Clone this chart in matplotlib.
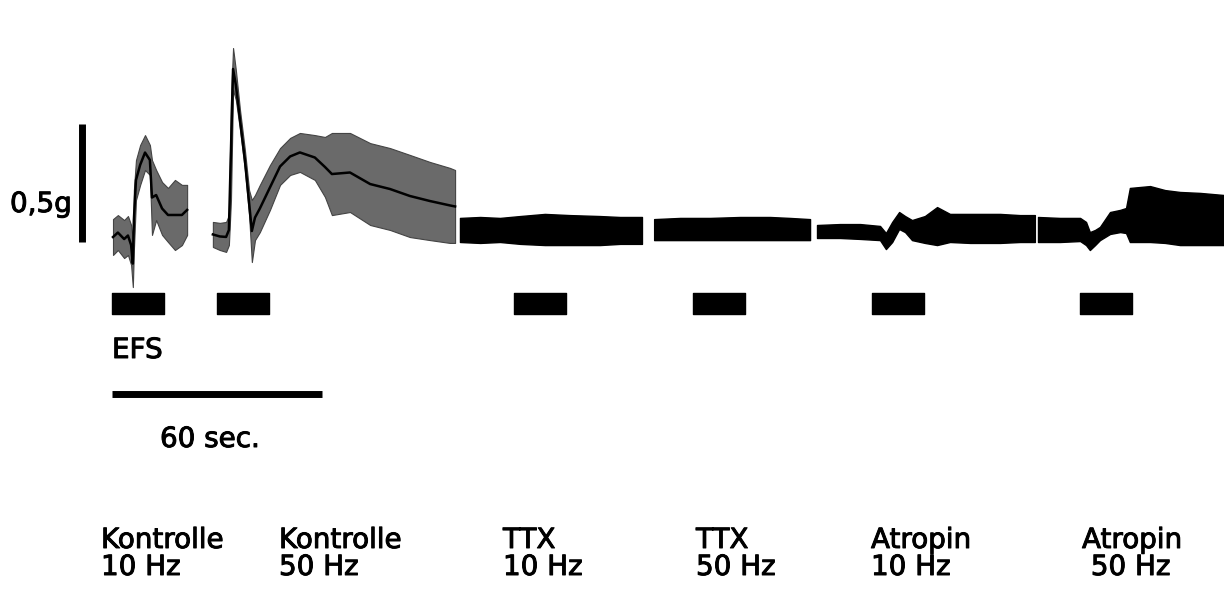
import numpy as np
import matplotlib
matplotlib.use("Agg")
import matplotlib.pyplot as plt
import matplotlib.patheffects as pe

plt.rcParams['font.family'] = ['DejaVu Sans']

# isometric tension trace
# time in s (0 = start of first EFS), tension in g; each segment gives the
# upper and lower edge of the oscillating trace

# Kontrolle 10 Hz
k10_t  = [0, 1.4, 3.2, 4.3, 5.2, 5.7, 6.0, 6.6, 7.8, 9.2, 10.6, 11.2, 12.4, 14.1, 15.8, 17.8, 19.8, 21.3]
k10_hi = [0.097, 0.114, 0.093, 0.110, 0.072, 0.008, 0.220, 0.347, 0.411, 0.453, 0.411, 0.347, 0.305, 0.254, 0.229, 0.263, 0.242, 0.242]
k10_lo = [-0.055, -0.034, -0.068, -0.055, -0.097, -0.191, -0.034, 0.178, 0.242, 0.305, 0.284, 0.030, 0.093, 0.030, 0.0, -0.034, -0.013, 0.030]

# Kontrolle 50 Hz
k50_t  = [28.7, 30.7, 32.5, 33.3, 33.9, 34.5, 35.3, 36.5, 37.9, 39.1, 39.9, 40.8, 42.2, 45.1, 48.0, 50.9, 53.7,
          58.0, 60.9, 62.9, 68.1, 73.9, 79.6, 85.3, 91.1, 96.8, 98.3]
k50_hi = [0.085, 0.081, 0.085, 0.114, 0.602, 0.822, 0.729, 0.559, 0.390, 0.220, 0.178, 0.199, 0.242, 0.326, 0.398, 0.441, 0.462,
          0.453, 0.445, 0.462, 0.462, 0.419, 0.398, 0.369, 0.339, 0.314, 0.305]
k50_lo = [-0.021, -0.034, -0.042, -0.013, 0.178, 0.644, 0.602, 0.475, 0.305, 0.114, -0.085, 0.008, 0.042, 0.136, 0.242, 0.284, 0.297,
          0.263, 0.191, 0.114, 0.127, 0.072, 0.051, 0.021, 0.008, -0.004, -0.004]

# TTX 10 Hz
t10_t  = [99.7, 105.5, 111.2, 117.0, 124.1, 131.3, 139.9, 145.7, 152.0]
t10_hi = [0.102, 0.106, 0.102, 0.110, 0.119, 0.114, 0.110, 0.106, 0.106]
t10_lo = [0.0, -0.004, 0.0, -0.008, -0.013, -0.013, -0.013, -0.008, -0.008]

# TTX 50 Hz
t50_t  = [155.5, 163.0, 171.6, 180.2, 188.8, 194.5, 200.3]
t50_hi = [0.097, 0.102, 0.102, 0.106, 0.106, 0.102, 0.097]
t50_lo = [0.008, 0.008, 0.008, 0.008, 0.008, 0.008, 0.008]

# Atropin 10 Hz
a10_t  = [202.3, 208.9, 214.7, 220.4, 222.1, 223.9, 225.9, 227.6, 229.6, 233.3, 236.8, 240.5, 246.3, 254.9, 260.6, 264.9]
a10_hi = [0.072, 0.076, 0.076, 0.068, 0.038, 0.085, 0.127, 0.110, 0.093, 0.110, 0.148, 0.119, 0.119, 0.119, 0.114, 0.114]
a10_lo = [0.017, 0.017, 0.013, 0.008, -0.030, 0.0, 0.055, 0.042, 0.008, -0.004, -0.013, 0.0, -0.004, -0.004, 0.0, 0.0]

# Atropin 50 Hz
a50_t  = [265.8, 272.1, 277.9, 279.6, 280.7, 282.2, 283.6, 286.5, 289.4, 291.1, 292.2, 298.0, 302.3, 306.6, 312.4, 319.3]
a50_hi = [0.106, 0.102, 0.102, 0.085, 0.042, 0.051, 0.064, 0.127, 0.136, 0.144, 0.229, 0.237, 0.220, 0.212, 0.208, 0.199]
a50_lo = [0.0, 0.0, 0.004, -0.013, -0.034, -0.013, 0.008, 0.034, 0.042, 0.038, 0.0, 0.0, -0.004, -0.013, -0.013, -0.013]

# EFS periods (onset in s, 15 s each)
efs_onsets = [-0.3, 29.9, 115.2, 166.7, 218.1, 277.9]
efs_dur = 15

cond_names = ["Kontrolle", "Kontrolle", "TTX", "TTX", "Atropin", "Atropin"]
cond_freqs = ["10 Hz", "50 Hz", "10 Hz", "50 Hz", "10 Hz", " 50 Hz"]

fig = plt.figure(figsize=(12.24, 5.94), dpi=100)
ax = fig.add_axes([0, 0, 1, 1])
ax.set_xlim(-32.47, 319.25)
ax.set_ylim(-1.4915, 1.0254)
ax.axis('off')

grey_segs = [(k10_t, k10_hi, k10_lo), (k50_t, k50_hi, k50_lo)]
black_segs = [(t10_t, t10_hi, t10_lo), (t50_t, t50_hi, t50_lo),
              (a10_t, a10_hi, a10_lo), (a50_t, a50_hi, a50_lo)]

for t, hi, lo in grey_segs:
    ax.fill_between(t, lo, hi, color='#6a6a6a', lw=0.8, edgecolor='#444444')
    mid = (np.array(hi) + np.array(lo)) / 2
    ax.plot(t, mid, color='black', lw=1.8)
for t, hi, lo in black_segs:
    ax.fill_between(t, lo, hi, color='black', lw=1.0, edgecolor='black')

# stimulation bars
ax.broken_barh([(s, efs_dur) for s in efs_onsets], (-0.305, 0.089), color='black')

# scale bars: 0.5 g and 60 s
ax.plot([-8.9, -8.9], [0, 0.5], color='black', lw=5, solid_capstyle='butt')
ax.plot([-0.3, 60], [-0.642, -0.642], color='black', lw=5, solid_capstyle='butt')

fs = 20
heavy = [pe.withStroke(linewidth=0.7, foreground='black')]
fig.text(10 / 1224, 1 - 212 / 594, "0,5g", fontsize=fs, va='baseline', ha='left', path_effects=heavy)
fig.text(112 / 1224, 1 - 358 / 594, "EFS", fontsize=fs, va='baseline', ha='left', path_effects=heavy)
fig.text(160 / 1224, 1 - 447 / 594, "60 sec.", fontsize=fs, va='baseline', ha='left', path_effects=heavy)

label_x = [101, 279, 503, 696, 871, 1082]
for x, name, freq in zip(label_x, cond_names, cond_freqs):
    fig.text(x / 1224, 1 - 548 / 594, name, fontsize=fs, va='baseline', ha='left', path_effects=heavy)
    fig.text(x / 1224, 1 - 575 / 594, freq, fontsize=fs, va='baseline', ha='left', path_effects=heavy)

fig.savefig("out.png", dpi=100)
